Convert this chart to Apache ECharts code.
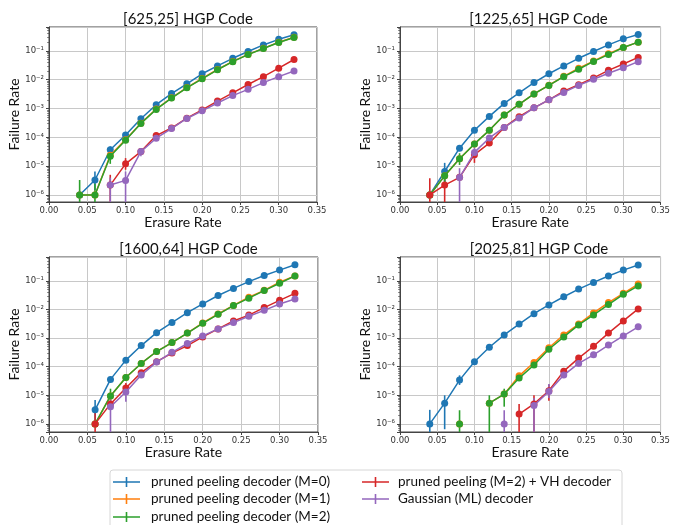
<!DOCTYPE html>
<html>
<head>
<meta charset="utf-8">
<script src="https://cdn.jsdelivr.net/npm/echarts@6/dist/echarts.min.js"></script>
<style>
  html, body { margin: 0; padding: 0; background: #fff; }
  #chart { width: 673px; height: 525px; }
</style>
</head>
<body>
<div id="chart"></div>
<script>
// erasure rates shared by every panel
const rates = [0.04, 0.06, 0.08, 0.10, 0.12, 0.14, 0.16, 0.18, 0.20, 0.22, 0.24, 0.26, 0.28, 0.30, 0.32];

const decoderNames = [
  'pruned peeling decoder (M=0)',
  'pruned peeling decoder (M=1)',
  'pruned peeling decoder (M=2)',
  'pruned peeling (M=2) + VH decoder',
  'Gaussian (ML) decoder'
];
const colors = ['#1f77b4', '#ff7f0e', '#2ca02c', '#d62728', '#9467bd'];

const panelTitles = ['[625,25] HGP Code', '[1225,65] HGP Code', '[1600,64] HGP Code', '[2025,81] HGP Code'];

// [625,25]
const m0_625 = [1e-6, 3.3e-6, 3.7e-5, 1.2e-4, 4.4e-4, 1.35e-3, 3.3e-3, 7.2e-3, 1.6e-2, 3.0e-2, 5.5e-2, 9.5e-2, 0.16, 0.25, 0.36];
const m1_625 = [1e-6, 1e-6, 2.4e-5, 8.3e-5, 3.1e-4, 9.6e-4, 2.35e-3, 5.3e-3, 1.1e-2, 2.25e-2, 4.3e-2, 7.5e-2, 0.122, 0.198, 0.295];
const m2_625 = [1e-6, 1e-6, 2.2e-5, 7.9e-5, 3.0e-4, 9.3e-4, 2.3e-3, 5.2e-3, 1.07e-2, 2.2e-2, 4.2e-2, 7.4e-2, 0.12, 0.195, 0.29];
const vh_625 = [null, null, 2.2e-6, 1.2e-5, 3.2e-5, 1.15e-4, 2.1e-4, 4.6e-4, 8.9e-4, 1.8e-3, 3.5e-3, 6.8e-3, 1.27e-2, 2.5e-2, 5e-2];
const ml_625 = [null, null, 2.2e-6, 3.2e-6, 3.2e-5, 9.3e-5, 2.0e-4, 4.5e-4, 8.3e-4, 1.55e-3, 2.8e-3, 4.6e-3, 7.9e-3, 1.27e-2, 2.0e-2];

// [1225,65]
const m0_1225 = [1e-6, 6.5e-6, 4.2e-5, 1.75e-4, 5.3e-4, 1.5e-3, 3.5e-3, 7.9e-3, 1.6e-2, 3.0e-2, 5.5e-2, 9.5e-2, 0.16, 0.26, 0.37];
const m1_1225 = [1e-6, 4.6e-6, 1.8e-5, 5.9e-5, 1.75e-4, 5.9e-4, 1.4e-3, 3.2e-3, 6.4e-3, 1.3e-2, 2.5e-2, 4.4e-2, 7.9e-2, 0.13, 0.2];
const m2_1225 = [1e-6, 4.6e-6, 1.8e-5, 5.9e-5, 1.75e-4, 5.9e-4, 1.4e-3, 3.2e-3, 6.3e-3, 1.27e-2, 2.3e-2, 4.3e-2, 7.4e-2, 0.13, 0.2];
const vh_1225 = [1e-6, 2.2e-6, 4.1e-6, 2.5e-5, 6.3e-5, 2.2e-4, 5.2e-4, 1.05e-3, 2.0e-3, 4.0e-3, 6.7e-3, 1.15e-2, 2.1e-2, 3.5e-2, 5.9e-2];
const ml_1225 = [null, null, 4e-6, 3.0e-5, 9.5e-5, 2.2e-4, 4.7e-4, 1.05e-3, 2.0e-3, 3.6e-3, 6.3e-3, 1.03e-2, 1.66e-2, 2.6e-2, 4.2e-2];

// [1600,64]
const m0_1600 = [null, 3.1e-6, 3.6e-5, 1.7e-4, 5.5e-4, 1.55e-3, 3.5e-3, 7.8e-3, 1.57e-2, 3.1e-2, 5.5e-2, 9.5e-2, 0.155, 0.24, 0.37];
const m1_1600 = [null, 1e-6, 9.5e-6, 4.2e-5, 1.3e-4, 3.4e-4, 7e-4, 1.5e-3, 3.4e-3, 7e-3, 1.4e-2, 2.7e-2, 4.7e-2, 9e-2, 0.15];
const m2_1600 = [null, 1e-6, 9.5e-6, 4.2e-5, 1.3e-4, 3.4e-4, 7e-4, 1.5e-3, 3.3e-3, 6.8e-3, 1.38e-2, 2.5e-2, 4.6e-2, 8.3e-2, 0.15];
const vh_1600 = [null, 1e-6, 5e-6, 1.8e-5, 6.2e-5, 1.5e-4, 3e-4, 5.5e-4, 1.1e-3, 2.1e-3, 4.0e-3, 6.4e-3, 1.17e-2, 2.1e-2, 3.7e-2];
const ml_1600 = [null, null, 4e-6, 1.3e-5, 5.1e-5, 1.45e-4, 3.2e-4, 6.5e-4, 1.2e-3, 2.1e-3, 3.5e-3, 5.8e-3, 9.4e-3, 1.57e-2, 2.35e-2];

// [2025,81]
const m0_2025 = [1e-6, 5.3e-6, 3.4e-5, 1.5e-4, 4.8e-4, 1.3e-3, 3.1e-3, 7.2e-3, 1.45e-2, 2.8e-2, 5.2e-2, 8.9e-2, 0.15, 0.24, 0.36];
const m1_2025 = [null, null, 1e-6, null, 5.3e-6, 1.1e-5, 4.8e-5, 1.4e-4, 4.6e-4, 1.3e-3, 3.1e-3, 7.6e-3, 1.75e-2, 3.7e-2, 7.8e-2];
const m2_2025 = [null, null, 1e-6, null, 5.3e-6, 1.1e-5, 4.0e-5, 1.15e-4, 4.1e-4, 1.1e-3, 2.9e-3, 6.5e-3, 1.5e-2, 3.4e-2, 6.7e-2];
const vh_2025 = [null, null, null, null, null, null, 2.2e-6, 5e-6, 1.45e-5, 7e-5, 2e-4, 5.2e-4, 1.5e-3, 4e-3, 1.05e-2];
const ml_2025 = [null, null, null, null, null, 1e-6, null, 4.4e-6, 1.35e-5, 5.1e-5, 1.3e-4, 2.6e-4, 5.7e-4, 1.2e-3, 2.5e-3];

// error bars: [decoder index, rate, low, high]  (low 1e-8 = runs off the axis)
const err_625 = [
  [2, 0.04, 1e-8, 3.3e-6], [0, 0.06, 1.5e-6, 6.5e-6], [2, 0.06, 1e-8, 2.5e-6],
  [2, 0.08, 1.2e-5, 3.2e-5], [0, 0.08, 2.8e-5, 4.8e-5], [3, 0.08, 1e-8, 5e-6],
  [4, 0.08, 1e-8, 4e-6], [3, 0.10, 7.5e-6, 1.9e-5], [4, 0.10, 1e-8, 6.5e-6],
  [4, 0.12, 2.2e-5, 4.2e-5]
];
const err_1225 = [
  [3, 0.04, 1e-8, 3.8e-6], [3, 0.06, 1e-8, 5e-6], [0, 0.06, 2.8e-6, 1.3e-5],
  [2, 0.06, 2e-6, 8e-6], [4, 0.08, 1e-8, 8.5e-6], [2, 0.08, 1.1e-5, 2.8e-5],
  [3, 0.10, 1.3e-5, 3.7e-5], [4, 0.10, 1.8e-5, 4.5e-5]
];
const err_1600 = [
  [0, 0.06, 1.2e-6, 6.9e-6], [3, 0.06, 1e-8, 2.5e-6], [2, 0.08, 5e-6, 1.7e-5],
  [4, 0.08, 1e-8, 8e-6], [4, 0.10, 6e-6, 2e-5], [3, 0.10, 1.1e-5, 2.7e-5]
];
const err_2025 = [
  [0, 0.04, 1e-8, 3.1e-6], [0, 0.06, 6.5e-7, 1e-5], [0, 0.08, 2.3e-5, 5e-5],
  [2, 0.08, 1e-8, 3e-6], [2, 0.12, 1e-8, 1e-5], [2, 0.14, 4e-6, 1.7e-5],
  [4, 0.14, 1e-8, 3e-6], [3, 0.16, 1e-8, 5e-6], [3, 0.18, 1e-8, 1e-5],
  [4, 0.18, 1e-8, 8e-6], [3, 0.20, 6.5e-6, 2.4e-5], [4, 0.20, 8e-6, 2.5e-5]
];

const panels = [
  { series: [m0_625, m1_625, m2_625, vh_625, ml_625], err: err_625 },
  { series: [m0_1225, m1_1225, m2_1225, vh_1225, ml_1225], err: err_1225 },
  { series: [m0_1600, m1_1600, m2_1600, vh_1600, ml_1600], err: err_1600 },
  { series: [m0_2025, m1_2025, m2_2025, vh_2025, ml_2025], err: err_2025 }
];

// plot boxes (pixels) and log y ranges
const grids = [
  { left: 49, top: 27, width: 268, height: 175, ymin: 5.7e-7, ymax: 0.67 },
  { left: 400, top: 27, width: 267, height: 175, ymin: 5.7e-7, ymax: 0.67 },
  { left: 49, top: 257, width: 269, height: 175, ymin: 5.2e-7, ymax: 0.69 },
  { left: 400, top: 257, width: 268, height: 175, ymin: 5.2e-7, ymax: 0.69 }
];

// legend slots: column-first like matplotlib (ncol=2)
const legendPos = [[113, 475], [113, 492], [113, 510], [362, 475], [362, 492]];

const SUP = { '-': '⁻', '0': '⁰', '1': '¹', '2': '²', '3': '³', '4': '⁴', '5': '⁵', '6': '⁶', '7': '⁷', '8': '⁸', '9': '⁹' };
function logLabel(v) {
  const l = Math.log10(v);
  const e = Math.round(l);
  if (Math.abs(l - e) > 1e-6) return '';
  return '10' + String(e).split('').map(c => SUP[c]).join('');
}

const tickFont = { fontFamily: 'DejaVu Sans', fontSize: 8.5, color: '#333' };
const nameFont = { fontFamily: 'Lato', fontSize: 14, color: '#111' };
const gridLine = { lineStyle: { color: '#c8c8c8', width: 1 } };
const plusIcon = 'path://M0,4.3h27v1.6h-27z M12.7,0h1.6v10.2h-1.6z';

const chart = echarts.init(document.getElementById('chart'), null, { renderer: 'canvas' });

const option = {
  animation: false,
  backgroundColor: '#fff',
  title: grids.map((g, i) => ({
    text: panelTitles[i],
    left: g.left + g.width / 2,
    top: g.top - 20,
    textAlign: 'center',
    textStyle: { fontFamily: 'Lato', fontSize: 15, fontWeight: 'normal', color: '#111' }
  })),
  grid: grids.map(g => ({
    left: g.left, top: g.top, width: g.width, height: g.height,
    show: true, borderColor: '#444', borderWidth: 1, backgroundColor: '#fff'
  })),
  xAxis: grids.map((g, i) => ({
    gridIndex: i,
    type: 'value',
    min: 0, max: 0.35, interval: 0.05,
    name: 'Erasure Rate',
    nameLocation: 'middle',
    nameGap: 13,
    nameTextStyle: nameFont,
    axisLine: { onZero: false, lineStyle: { color: '#444', width: 1 } },
    axisTick: { length: 3, lineStyle: { color: '#444' } },
    axisLabel: Object.assign({ margin: 4, formatter: v => v.toFixed(2) }, tickFont),
    splitLine: Object.assign({ show: true }, gridLine)
  })),
  yAxis: grids.map((g, i) => ({
    gridIndex: i,
    type: 'log',
    logBase: 10,
    min: g.ymin, max: g.ymax,
    name: 'Failure Rate',
    nameLocation: 'middle',
    nameGap: 27,
    nameTextStyle: nameFont,
    axisLine: { show: true, lineStyle: { color: '#444', width: 1 } },
    axisTick: { length: 3, lineStyle: { color: '#444' } },
    minorTick: { show: true, splitNumber: 9, length: 1.8, lineStyle: { color: '#555', width: 0.8 } },
    axisLabel: Object.assign({ margin: 5, formatter: logLabel, showMinLabel: false, showMaxLabel: false }, tickFont),
    splitLine: Object.assign({ show: true }, gridLine)
  })),
  legend: decoderNames.map((name, i) => ({
    data: [name],
    left: legendPos[i][0], top: legendPos[i][1],
    padding: 0,
    itemWidth: 27, itemHeight: 11,
    icon: plusIcon,
    textStyle: { fontFamily: 'Lato', fontSize: 13.5, color: '#111', padding: [0, 0, 0, i < 3 ? 6 : 4] },
    selectedMode: false
  })),
  graphic: [{
    type: 'rect',
    shape: { x: 110, y: 470, width: 512, height: 70, r: 3 },
    style: { fill: 'none', stroke: '#d6d6d6', lineWidth: 1 },
    silent: true, z: -1
  }],
  series: []
};

panels.forEach((p, gi) => {
  option.series.push({
    type: 'custom',
    name: 'errorbars',
    xAxisIndex: gi, yAxisIndex: gi,
    clip: true,
    z: 2,
    encode: { x: 1, y: [2, 3] },
    data: p.err,
    renderItem: (params, api) => {
      const c = colors[api.value(0)];
      const top = api.coord([api.value(1), api.value(3)]);
      const bot = api.coord([api.value(1), api.value(2)]);
      return {
        type: 'line',
        shape: { x1: top[0], y1: top[1], x2: bot[0], y2: bot[1] },
        style: { stroke: c, lineWidth: 1.6 }
      };
    }
  });
  p.series.forEach((vals, si) => {
    option.series.push({
      type: 'line',
      name: decoderNames[si],
      xAxisIndex: gi, yAxisIndex: gi,
      data: rates.map((r, k) => [r, vals[k] == null ? '-' : vals[k]]),
      connectNulls: false,
      symbol: 'circle',
      symbolSize: 7,
      showSymbol: true,
      color: colors[si],
      itemStyle: { color: colors[si] },
      lineStyle: { color: colors[si], width: 1.5 },
      emphasis: { disabled: true },
      z: 3 + si
    });
  });
});

chart.setOption(option);
</script>
</body>
</html>
